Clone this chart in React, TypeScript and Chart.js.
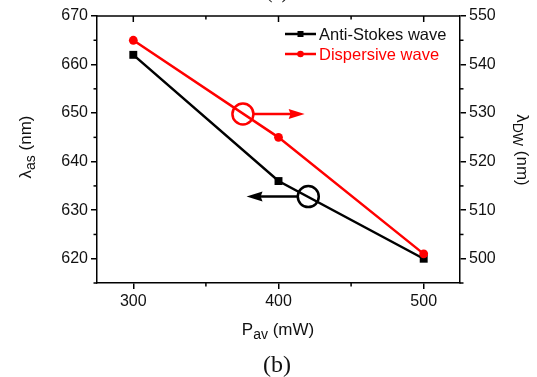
import React, { useEffect, useRef } from 'react';
import { Chart, registerables } from 'chart.js';

Chart.register(...registerables);

// ---------- data ----------
const powers = [300, 400, 500];
const antiStokes = [662, 636, 620];
const dispersive = [545, 525, 501];
const seriesNames = ['Anti-Stokes wave', 'Dispersive wave'];

const xTicks = [300, 400, 500];
const leftTicks = [620, 630, 640, 650, 660, 670];
const rightTicks = [500, 510, 520, 530, 540, 550];
const xMinor = [350, 450];
const leftMinor = [615, 625, 635, 645, 655, 665];
const rightMinor = [495, 505, 515, 525, 535, 545];

// annotation markers (data units): circle centre and arrow tip x
const redMarker = { x: 375.5, y: 529.8, tipX: 418 };
const blackMarker = { x: 420.5, y: 632.8, tipX: 378 };

const FONT = "'Liberation Sans', Arial, sans-serif";
const SERIF = "'Liberation Serif', 'Times New Roman', serif";
const RED = '#ff0000';
const BLACK = '#000000';

function drawArrow(ctx: CanvasRenderingContext2D, x0: number, x1: number, y: number, color: string) {
  const dir = Math.sign(x1 - x0);
  const headLen = 16;
  const half = 5;
  ctx.strokeStyle = color;
  ctx.fillStyle = color;
  ctx.lineWidth = 2.5;
  ctx.beginPath();
  ctx.moveTo(x0, y);
  ctx.lineTo(x1 - dir * headLen * 0.8, y);
  ctx.stroke();
  ctx.beginPath();
  ctx.moveTo(x1, y);
  ctx.lineTo(x1 - dir * headLen, y - half);
  ctx.lineTo(x1 - dir * headLen * 0.88, y);
  ctx.lineTo(x1 - dir * headLen, y + half);
  ctx.closePath();
  ctx.fill();
}

type Seg = { t: string; sub?: boolean };
function drawRich(ctx: CanvasRenderingContext2D, segs: Seg[], cx: number, cy: number, rot: number, mainSize: number, subSize: number, subShift: number) {
  ctx.save();
  ctx.translate(cx, cy);
  ctx.rotate(rot);
  let total = 0;
  const widths = segs.map(s => {
    ctx.font = `${s.sub ? subSize : mainSize}px ${FONT}`;
    const w = ctx.measureText(s.t).width;
    total += w;
    return w;
  });
  let x = -total / 2;
  ctx.textBaseline = 'alphabetic';
  ctx.textAlign = 'left';
  ctx.fillStyle = '#111';
  segs.forEach((s, i) => {
    ctx.font = `${s.sub ? subSize : mainSize}px ${FONT}`;
    ctx.fillText(s.t, x, s.sub ? subShift : 0);
    x += widths[i];
  });
  ctx.restore();
}

const decoPlugin = {
  id: 'deco',
  afterDraw(chart: any) {
    const ctx: CanvasRenderingContext2D = chart.ctx;
    const ca = chart.chartArea;
    const xs = chart.scales.x;
    const ys = chart.scales.y;
    const y2s = chart.scales.y2;
    ctx.save();
    ctx.strokeStyle = BLACK;
    ctx.lineWidth = 1.5;
    // top frame
    ctx.beginPath();
    ctx.moveTo(ca.left, ca.top);
    ctx.lineTo(ca.right, ca.top);
    ctx.stroke();
    // top ticks (inward)
    xTicks.forEach(v => {
      const px = xs.getPixelForValue(v);
      ctx.beginPath(); ctx.moveTo(px, ca.top); ctx.lineTo(px, ca.top + 6); ctx.stroke();
    });
    xMinor.forEach(v => {
      const px = xs.getPixelForValue(v);
      ctx.beginPath(); ctx.moveTo(px, ca.top); ctx.lineTo(px, ca.top + 3.5); ctx.stroke();
      ctx.beginPath(); ctx.moveTo(px, ca.bottom); ctx.lineTo(px, ca.bottom + 3.5); ctx.stroke();
    });
    leftMinor.forEach(v => {
      const py = ys.getPixelForValue(v);
      ctx.beginPath(); ctx.moveTo(ca.left, py); ctx.lineTo(ca.left - 3.5, py); ctx.stroke();
    });
    rightMinor.forEach(v => {
      const py = y2s.getPixelForValue(v);
      ctx.beginPath(); ctx.moveTo(ca.right, py); ctx.lineTo(ca.right + 3.5, py); ctx.stroke();
    });

    // annotations
    const r = 10.5;
    const rcx = xs.getPixelForValue(redMarker.x);
    const rcy = y2s.getPixelForValue(redMarker.y);
    ctx.strokeStyle = RED; ctx.lineWidth = 2.5;
    ctx.beginPath(); ctx.arc(rcx, rcy, r, 0, Math.PI * 2); ctx.stroke();
    drawArrow(ctx, rcx + r, xs.getPixelForValue(redMarker.tipX), rcy, RED);

    const bcx = xs.getPixelForValue(blackMarker.x);
    const bcy = ys.getPixelForValue(blackMarker.y);
    ctx.strokeStyle = BLACK; ctx.lineWidth = 2.5;
    ctx.beginPath(); ctx.arc(bcx, bcy, r, 0, Math.PI * 2); ctx.stroke();
    drawArrow(ctx, bcx - r, xs.getPixelForValue(blackMarker.tipX), bcy, BLACK);

    // legend
    const lx0 = 285, lx1 = 316, tx = 319;
    const rows = [
      { y: 34, color: BLACK, name: seriesNames[0], marker: 'rect' },
      { y: 54, color: RED, name: seriesNames[1], marker: 'circle' },
    ];
    rows.forEach(row => {
      ctx.strokeStyle = row.color; ctx.fillStyle = row.color; ctx.lineWidth = 2.5;
      ctx.beginPath(); ctx.moveTo(lx0, row.y); ctx.lineTo(lx1, row.y); ctx.stroke();
      const mx = (lx0 + lx1) / 2;
      if (row.marker === 'rect') {
        ctx.fillRect(mx - 3, row.y - 3, 6, 6);
      } else {
        ctx.beginPath(); ctx.arc(mx, row.y, 3.3, 0, Math.PI * 2); ctx.fill();
      }
      ctx.font = `16.5px ${FONT}`;
      ctx.textAlign = 'left';
      ctx.textBaseline = 'alphabetic';
      ctx.fillStyle = row.color === BLACK ? '#111' : RED;
      ctx.fillText(row.name, tx, row.y + 5.8);
    });

    // axis titles
    drawRich(ctx, [{ t: 'λ' }, { t: 'as', sub: true }, { t: ' (nm)' }], 31, 147, -Math.PI / 2, 17, 14, 4);
    drawRich(ctx, [{ t: 'λ' }, { t: 'DW', sub: true }, { t: ' (nm)' }], 517, 150, Math.PI / 2, 17, 14, 4);
    drawRich(ctx, [{ t: 'P' }, { t: 'av', sub: true }, { t: ' (mW)' }], 278, 335, 0, 17, 14, 4);

    // panel labels
    ctx.fillStyle = '#111';
    ctx.font = `24px ${SERIF}`;
    ctx.textAlign = 'center';
    ctx.textBaseline = 'alphabetic';
    ctx.fillText('(b)', 277, 372);
    ctx.font = `20px ${SERIF}`;
    ctx.fillText('(a)', 277, -2);
    ctx.restore();
  },
};

function axisCommon(ticksArr: number[], fit: (s: any) => void, padding: number) {
  return {
    afterBuildTicks: (s: any) => { s.ticks = ticksArr.map(v => ({ value: v })); },
    afterFit: fit,
    grid: { drawOnChartArea: false, drawTicks: true, tickLength: 6, color: BLACK, lineWidth: 1.5 },
    border: { display: true, color: BLACK, width: 1.5 },
    ticks: { font: { family: FONT, size: 16 }, color: '#111', padding, maxRotation: 0, autoSkip: false },
  };
}

export default function App() {
  const ref = useRef<HTMLCanvasElement>(null);
  useEffect(() => {
    if (!ref.current) return;
    const chart = new Chart(ref.current, {
      type: 'line',
      data: {
        datasets: [
          {
            label: seriesNames[0],
            data: powers.map((p, i) => ({ x: p, y: antiStokes[i] })),
            yAxisID: 'y',
            borderColor: BLACK,
            backgroundColor: BLACK,
            borderWidth: 2.5,
            pointStyle: 'rect',
            pointRadius: 5.6,
            pointBorderWidth: 0,
            order: 1,
          },
          {
            label: seriesNames[1],
            data: powers.map((p, i) => ({ x: p, y: dispersive[i] })),
            yAxisID: 'y2',
            borderColor: RED,
            backgroundColor: RED,
            borderWidth: 2.5,
            pointStyle: 'circle',
            pointRadius: 4.4,
            pointBorderWidth: 0,
            order: 0,
          },
        ],
      },
      options: {
        responsive: false,
        animation: false,
        events: [],
        layout: { padding: { top: 16, left: 0, right: 0, bottom: 0 } },
        plugins: { legend: { display: false }, tooltip: { enabled: false }, title: { display: false } },
        scales: {
          x: { type: 'linear', position: 'bottom', min: 275, max: 525, ...axisCommon(xTicks, (s: any) => { s.height = 94; }, 3) },
          y: { type: 'linear', position: 'left', min: 615, max: 670, ...axisCommon(leftTicks, (s: any) => { s.width = 97; }, 3) },
          y2: { type: 'linear', position: 'right', min: 495, max: 550, ...axisCommon(rightTicks, (s: any) => { s.width = 77; }, 3) },
        },
      } as any,
      plugins: [decoPlugin],
    });
    return () => chart.destroy();
  }, []);
  return (
    <div style={{ position: 'absolute', left: 0, top: 0, width: 537, height: 377, background: '#fff' }}>
      <canvas ref={ref} width={537} height={377} />
    </div>
  );
}
